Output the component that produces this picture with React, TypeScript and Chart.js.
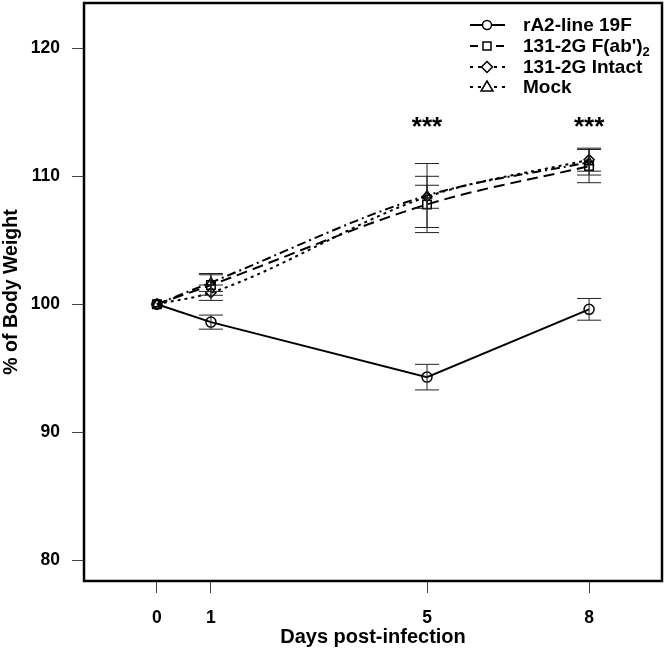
import React, { useEffect, useRef } from "react";
import { Chart, registerables } from "chart.js";

Chart.register(...registerables);

const days = [0, 1, 5, 8];
const xTickValues = [0, 1, 5, 8];
const yTickValues = [80, 90, 100, 110, 120];

const seriesNames = ["rA2-line 19F", "131-2G F(ab')", "131-2G Intact", "Mock"];
const rA2Values = [100, 98.6, 94.3, 99.6];
const rA2Err = [0, 0.55, 1.0, 0.85];
const fabValues = [100, 101.5, 107.8, 110.8];
const fabErr = [0, 0.8, 2.2, 1.3];
const intactValues = [100, 100.9, 108.4, 111.3];
const intactErr = [0, 0.6, 0.9, 0.9];
const mockValues = [100, 101.7, 108.5, 111.1];
const mockErr = [0, 0.7, 2.5, 1.0];

const starDays = [5, 8];
const starLevel = 114.4;
const starText = "***";

const FONT = "'Liberation Sans', Arial, sans-serif";

const dashes = [[], [11, 6], [3, 4], [9, 4, 2, 4]];
const shapes = ["circle", "rect", "rectRot", "triangle"];

export default function App() {
  const ref = useRef<HTMLCanvasElement | null>(null);

  useEffect(() => {
    const canvas = ref.current;
    if (!canvas) return;
    const valueSets = [rA2Values, fabValues, intactValues, mockValues];
    const errSets = [rA2Err, fabErr, intactErr, mockErr];

    const datasets = valueSets.map((vals, i) => ({
      label: seriesNames[i],
      data: days.map((d, j) => ({ x: d, y: vals[j] })),
      borderColor: "#000",
      backgroundColor: "rgba(0,0,0,0)",
      borderWidth: 2,
      borderDash: dashes[i],
      pointStyle: shapes[i],
      pointRadius: i === 1 ? 6 : 5,
      pointBorderWidth: 1.5,
      pointBorderColor: "#000",
      pointBackgroundColor: "rgba(0,0,0,0)",
      cubicInterpolationMode: i === 0 ? "default" : "monotone",
      tension: 0,
      fill: false,
    }));

    function drawMarker(ctx: CanvasRenderingContext2D, shape: string, x: number, y: number) {
      ctx.strokeStyle = "#000";
      ctx.beginPath();
      if (shape === "circle") {
        ctx.arc(x, y, 4.5, 0, Math.PI * 2);
      } else if (shape === "rect") {
        ctx.rect(x - 4, y - 4, 8, 8);
      } else if (shape === "rectRot") {
        ctx.moveTo(x, y - 5.5);
        ctx.lineTo(x + 5.5, y);
        ctx.lineTo(x, y + 5.5);
        ctx.lineTo(x - 5.5, y);
        ctx.closePath();
      } else {
        ctx.moveTo(x, y - 6);
        ctx.lineTo(x + 6, y + 4);
        ctx.lineTo(x - 6, y + 4);
        ctx.closePath();
      }
      ctx.stroke();
    }

    const decor = {
      id: "decor",
      afterDatasetsDraw(chart: any) {
        const ctx = chart.ctx;
        const xs = chart.scales.x;
        const ys = chart.scales.y;
        ctx.save();
        ctx.strokeStyle = "#222";
        ctx.lineWidth = 1;
        ctx.setLineDash([]);
        valueSets.forEach((vals, i) => {
          vals.forEach((v, j) => {
            const e = errSets[i][j];
            if (!e) return;
            const px = xs.getPixelForValue(days[j]);
            const top = ys.getPixelForValue(v + e);
            const bot = ys.getPixelForValue(v - e);
            ctx.beginPath();
            ctx.moveTo(px, top);
            ctx.lineTo(px, bot);
            ctx.moveTo(px - 12, top);
            ctx.lineTo(px + 12, top);
            ctx.moveTo(px - 12, bot);
            ctx.lineTo(px + 12, bot);
            ctx.stroke();
          });
        });
        ctx.fillStyle = "#000";
        ctx.font = `bold 26px ${FONT}`;
        ctx.textAlign = "center";
        ctx.textBaseline = "alphabetic";
        starDays.forEach((d) => {
          ctx.fillText(starText, xs.getPixelForValue(d), ys.getPixelForValue(starLevel) + 15);
        });
        const a = chart.chartArea;
        ctx.lineWidth = 2.5;
        ctx.strokeStyle = "#000";
        ctx.strokeRect(a.left, a.top, a.right - a.left, a.bottom - a.top);
        const lx0 = 470, lx1 = 505, mx = 487, tx = 523;
        const rowY = [25, 46, 67, 87];
        ctx.textAlign = "left";
        ctx.textBaseline = "middle";
        ctx.font = `bold 19px ${FONT}`;
        datasets.forEach((ds, i) => {
          const y = rowY[i];
          ctx.strokeStyle = "#000";
          ctx.lineWidth = 2;
          ctx.setLineDash(i === 0 ? [] : i === 1 ? [8, 5] : [3, 5]);
          ctx.beginPath();
          ctx.moveTo(lx0, y);
          ctx.lineTo(lx1, y);
          ctx.stroke();
          ctx.setLineDash([]);
          ctx.fillStyle = "#fff";
          ctx.beginPath();
          ctx.arc(mx, y, 5, 0, Math.PI * 2);
          ctx.fill();
          ctx.lineWidth = 1.5;
          drawMarker(ctx, shapes[i], mx, y);
          ctx.fillStyle = "#000";
          ctx.fillText(ds.label, tx, y + 1);
          if (i === 1) {
            const w = ctx.measureText(ds.label).width;
            ctx.font = `bold 13px ${FONT}`;
            ctx.fillText("2", tx + w, y + 6);
            ctx.font = `bold 19px ${FONT}`;
          }
        });
        ctx.restore();
      },
    };

    const chart = new Chart(canvas, {
      type: "line",
      data: { datasets: datasets as any },
      options: {
        animation: false,
        responsive: false,
        maintainAspectRatio: false,
        layout: { autoPadding: false, padding: { left: 0, right: 4, top: 3, bottom: 0 } },
        plugins: { legend: { display: false }, tooltip: { enabled: false } },
        scales: {
          x: {
            type: "linear",
            min: -1.35,
            max: 9.35,
            afterBuildTicks: (s: any) => {
              s.ticks = xTickValues.map((v) => ({ value: v }));
            },
            afterFit: (s: any) => {
              s.height = 68;
              s.paddingLeft = 0;
              s.paddingRight = 0;
            },
            grid: { drawOnChartArea: false, drawTicks: true, tickLength: 12, color: "#444", lineWidth: 1 },
            border: { display: false },
            ticks: {
              color: "#000",
              font: { family: FONT, size: 17.5, weight: "bold" },
              padding: 15,
              maxRotation: 0,
              autoSkip: false,
            },
            title: {
              display: true,
              text: "Days post-infection",
              color: "#000",
              font: { family: FONT, size: 20, weight: "bold" },
              padding: 0,
            },
          },
          y: {
            type: "linear",
            min: 78.36,
            max: 123.55,
            afterBuildTicks: (s: any) => {
              s.ticks = yTickValues.map((v) => ({ value: v }));
            },
            afterFit: (s: any) => {
              s.width = 84;
              s.paddingTop = 0;
              s.paddingBottom = 0;
            },
            grid: { drawOnChartArea: false, drawTicks: true, tickLength: 12, color: "#444", lineWidth: 1 },
            border: { display: false },
            ticks: {
              color: "#000",
              font: { family: FONT, size: 17.5, weight: "bold" },
              padding: 12,
              autoSkip: false,
            },
            title: {
              display: true,
              text: "% of Body Weight",
              color: "#000",
              font: { family: FONT, size: 19.5, weight: "bold" },
              padding: 0,
            },
          },
        },
      },
      plugins: [decor],
    });
    return () => chart.destroy();
  }, []);

  return (
    <div style={{ position: "fixed", left: 0, top: 0, width: 666, height: 649, background: "#fff" }}>
      <canvas ref={ref} width={666} height={649} style={{ width: 666, height: 649, display: "block" }} />
    </div>
  );
}
